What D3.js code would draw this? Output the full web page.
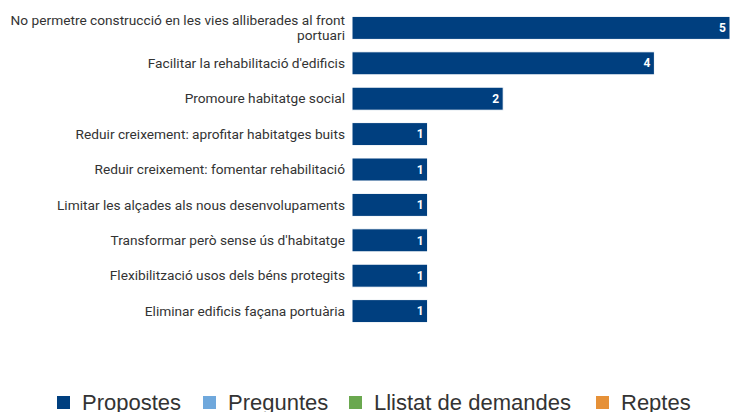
<!DOCTYPE html>
<html>
<head>
<meta charset="utf-8">
<script src="https://cdn.jsdelivr.net/npm/d3@7"></script>
<style>
  html, body { margin: 0; padding: 0; background: #fff; overflow: hidden; }
  svg { display: block; }
</style>
</head>
<body>
<div class="playground"></div>
<script>
var categories = [
  "No permetre construcció en les vies alliberades al front portuari",
  "Facilitar la rehabilitació d'edificis",
  "Promoure habitatge social",
  "Reduir creixement: aprofitar habitatges buits",
  "Reduir creixement: fomentar rehabilitació",
  "Limitar les alçades als nous desenvolupaments",
  "Transformar però sense ús d'habitatge",
  "Flexibilització usos dels béns protegits",
  "Eliminar edificis façana portuària"
];
var values = [5, 4, 2, 1, 1, 1, 1, 1, 1];

var legendNames = ["Propostes", "Preguntes", "Llistat de demandes", "Reptes"];
var legendColors = ["#003f7f", "#6fa8dc", "#6aa84f", "#e69138"];

var W = 730, H = 412;

var svg = d3.select('.playground')
  .append('svg')
  .attr('width', W)
  .attr('height', H);

var x = d3.scaleLinear().domain([0, 5]).range([352, 730]);
var y = d3.scaleBand().domain(categories).range([4, 335]).padding(0.35);

// bars
svg.selectAll('rect.bar')
  .data(values)
  .enter()
  .append('rect')
  .attr('class', 'bar')
  .attr('x', x(0))
  .attr('y', function(d, i){ return y(categories[i]); })
  .attr('width', function(d){ return x(d) - x(0); })
  .attr('height', y.bandwidth())
  .style('fill', legendColors[0])
  .style('stroke', '#ffffff')
  .style('stroke-width', 1);

// value labels
svg.selectAll('text.val')
  .data(values)
  .enter()
  .append('text')
  .attr('class', 'val')
  .attr('x', function(d){ return Math.min(x(d), 730) - 4; })
  .attr('y', function(d, i){ return y(categories[i]) + y.bandwidth() / 2; })
  .attr('dy', '0.35em')
  .attr('text-anchor', 'end')
  .style('font-family', 'Roboto, sans-serif')
  .style('font-weight', 'bold')
  .style('font-size', '12px')
  .style('fill', '#ffffff')
  .text(function(d){ return d; });

// category labels, wrapped
var maxW = 340;
var labels = svg.selectAll('text.cat')
  .data(categories)
  .enter()
  .append('text')
  .attr('class', 'cat')
  .attr('text-anchor', 'end')
  .style('font-family', 'Roboto, sans-serif')
  .style('font-size', '13.7px')
  .style('fill', '#333333');

labels.each(function(d){
  var t = d3.select(this);
  var words = d.split(' ');
  var lines = [], line = [];
  var probe = t.append('tspan');
  words.forEach(function(w){
    line.push(w);
    probe.text(line.join(' '));
    if (probe.node().getComputedTextLength() > maxW && line.length > 1) {
      line.pop();
      lines.push(line.join(' '));
      line = [w];
    }
  });
  lines.push(line.join(' '));
  probe.remove();
  var lh = 15.5;
  var cy = y(d) + y.bandwidth() / 2;
  var y0 = cy - (lines.length - 1) * lh / 2;
  lines.forEach(function(l, k){
    t.append('tspan')
      .attr('x', 345)
      .attr('y', y0 + k * lh)
      .attr('dy', '0.35em')
      .text(l);
  });
});

// legend
var legendX = [57, 203, 349, 596];
var lg = svg.selectAll('g.leg')
  .data(legendNames)
  .enter()
  .append('g')
  .attr('class', 'leg')
  .attr('transform', function(d, i){ return 'translate(' + legendX[i] + ',0)'; });

lg.append('rect')
  .attr('x', 0)
  .attr('y', 396)
  .attr('width', 13)
  .attr('height', 13)
  .style('fill', function(d, i){ return legendColors[i]; });

lg.append('text')
  .attr('x', 25)
  .attr('y', 410)
  .style('font-family', '"Liberation Sans", Arial, sans-serif')
  .style('font-size', '22px')
  .style('fill', '#333333')
  .text(function(d){ return d; });
</script>
</body>
</html>
